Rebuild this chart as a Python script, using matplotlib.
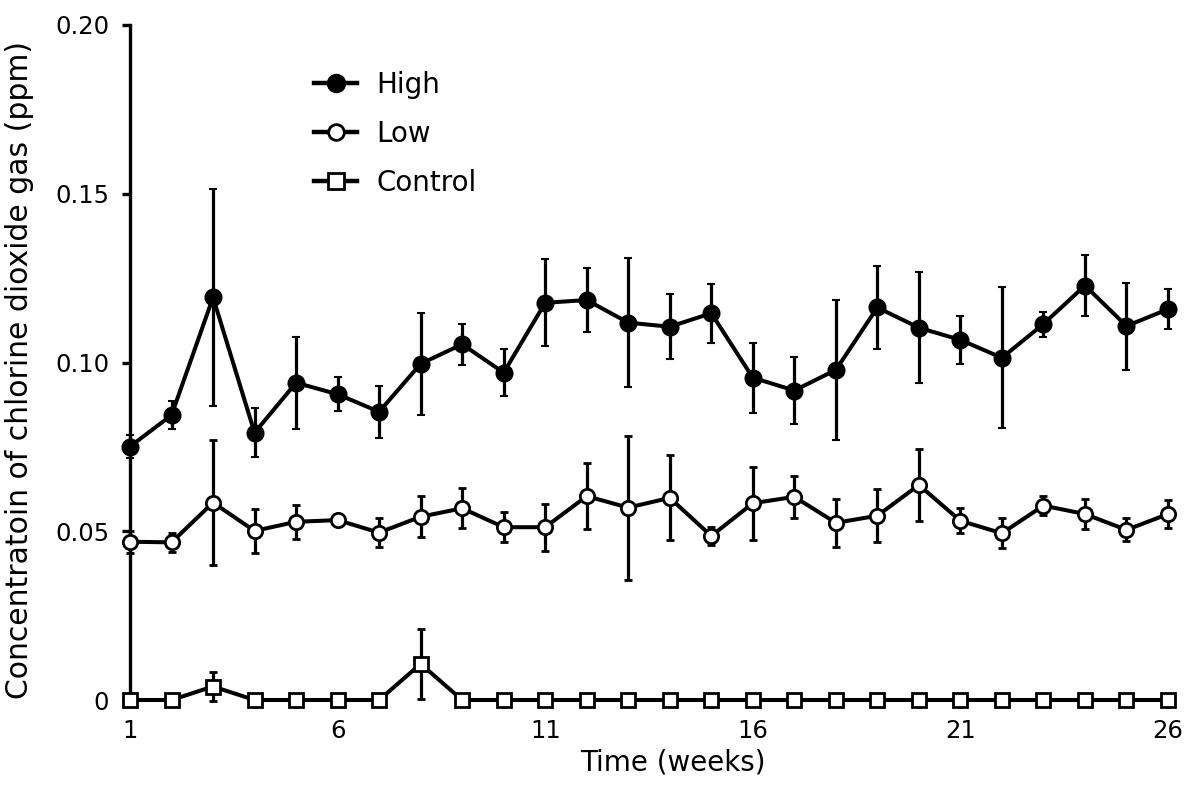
import matplotlib
matplotlib.use("Agg")
import matplotlib.pyplot as plt
from matplotlib.ticker import FixedLocator
from matplotlib.lines import Line2D

plt.rcParams['font.family'] = ['DejaVu Sans']

weeks = list(range(1, 27))
high = [0.0751, 0.0844, 0.1193, 0.0792, 0.0940, 0.0906, 0.0854, 0.0996, 0.1054, 0.0970,
        0.1177, 0.1185, 0.1118, 0.1106, 0.1146, 0.0955, 0.0917, 0.0978, 0.1163, 0.1103,
        0.1067, 0.1014, 0.1114, 0.1228, 0.1108, 0.1158]
high_err = [0.0035, 0.0042, 0.0322, 0.0072, 0.0136, 0.0050, 0.0077, 0.0152, 0.0061, 0.0069,
            0.0129, 0.0096, 0.0192, 0.0096, 0.0088, 0.0104, 0.0098, 0.0208, 0.0122, 0.0165,
            0.0072, 0.0209, 0.0037, 0.0091, 0.0129, 0.0059]
low = [0.0469, 0.0467, 0.0585, 0.0501, 0.0528, 0.0533, 0.0496, 0.0543, 0.0568, 0.0512,
       0.0512, 0.0604, 0.0570, 0.0599, 0.0486, 0.0583, 0.0602, 0.0525, 0.0546, 0.0637,
       0.0531, 0.0494, 0.0576, 0.0551, 0.0504, 0.0551]
low_err = [0.0033, 0.0029, 0.0185, 0.0066, 0.0050, 0.0013, 0.0042, 0.0060, 0.0059, 0.0045,
           0.0070, 0.0098, 0.0213, 0.0126, 0.0028, 0.0108, 0.0062, 0.0071, 0.0078, 0.0107,
           0.0037, 0.0045, 0.0027, 0.0045, 0.0034, 0.0041]
control = [0, 0, 0.0040, 0, 0, 0, 0, 0.0107, 0, 0,
           0, 0, 0, 0, 0, 0, 0, 0, 0, 0,
           0, 0, 0, 0, 0, 0]
control_err = [0, 0, 0.0042, 0, 0, 0, 0, 0.0104, 0, 0,
               0, 0, 0, 0, 0, 0, 0, 0, 0, 0,
               0, 0, 0, 0, 0, 0]

xticks = [1, 6, 11, 16, 21, 26]
yticks = [0, 0.05, 0.10, 0.15, 0.20]
ytick_labels = ["0", "0.05", "0.10", "0.15", "0.20"]

fig = plt.figure(figsize=(12, 7.93), dpi=100)
ax = fig.add_axes([130/1200, 1-700/793, (1168-130)/1200, (700-25)/793])

common = dict(color='black', lw=2.9, elinewidth=2.3, capsize=3, capthick=2.6,
              markeredgecolor='black', clip_on=False)

styles = {
    'High': dict(marker='o', ms=11.5, mfc='black', mew=1.5),
    'Low': dict(marker='o', ms=10.3, mfc='white', mew=2.0),
    'Control': dict(marker='s', ms=10, mfc='white', mew=2.0),
}

ax.errorbar(weeks, control, yerr=control_err, zorder=3, **styles['Control'], **common)
ax.errorbar(weeks, low, yerr=low_err, zorder=4, **styles['Low'], **common)
ax.errorbar(weeks, high, yerr=high_err, zorder=5, **styles['High'], **common)

ax.set_xlim(1, 26)
ax.set_ylim(0, 0.20)
ax.xaxis.set_major_locator(FixedLocator(xticks))
ax.set_yticks(yticks)
ax.set_yticklabels(ytick_labels)

for s in ['top', 'right', 'bottom']:
    ax.spines[s].set_visible(False)
ax.spines['left'].set_linewidth(2.4)

ax.tick_params(axis='y', direction='out', length=6, width=2.4, pad=9, labelsize=17.5)
ax.tick_params(axis='x', length=0, pad=14, labelsize=17.5)

ax.set_xlabel('Time (weeks)', fontsize=20)
ax.xaxis.set_label_coords((673-130)/1038, (700-749)/675)
ax.set_ylabel('Concentratoin of chlorine dioxide gas (ppm)', fontsize=21.5)
ax.yaxis.set_label_coords((34-130)/1038, 0.489)

names = ['High', 'Low', 'Control']
handles = [Line2D([0], [0], color='black', lw=3.2, markeredgecolor='black',
                  **{**styles[n], 'ms': styles[n]['ms'] + 1}) for n in names]
leg = fig.legend(handles, names,
                 loc='upper left', bbox_to_anchor=(314/1200, 1-71/793),
                 frameon=False, fontsize=20, borderpad=0, borderaxespad=0,
                 handlelength=1.55, handletextpad=0.7, labelspacing=0.76,
                 numpoints=1)

fig.savefig('out.png', dpi=100)
